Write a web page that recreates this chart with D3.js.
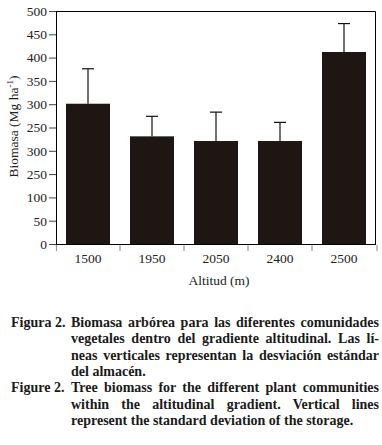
<!DOCTYPE html>
<html>
<head>
<meta charset="utf-8">
<script src="https://cdn.jsdelivr.net/npm/d3@7"></script>
<style>
  body { margin: 0; background: #fff; }
  svg { display: block; }
</style>
</head>
<body>
<div class="chart"></div>
<script>
// Data
const altitudes = ["1500", "1950", "2050", "2400", "2500"];
const biomass = [301, 231, 221, 221, 412];
const deviation = [75, 43, 62, 40, 61];
// tick labels exactly as printed in the original (including its typos)
const yTickValues = [0, 50, 100, 150, 200, 250, 300, 350, 400, 450, 500];
const yTickLabels = ["0", "50", "100", "250", "300", "250", "300", "350", "400", "450", "500"];

const captionEs = [
  "Biomasa arbórea para las diferentes comunidades",
  "vegetales dentro del gradiente altitudinal. Las lí-",
  "neas verticales representan la desviación estándar",
  "del almacén."
];
const captionEn = [
  "Tree biomass for the different plant communities",
  "within the altitudinal gradient. Vertical lines",
  "represent the standard deviation of the storage."
];

const width = 382, height = 445;
const margin = { top: 11, right: 6, bottom: 201, left: 56 };
const plotW = width - margin.left - margin.right;
const plotH = height - margin.top - margin.bottom;
const serif = "'Liberation Serif', 'DejaVu Serif', serif";

const svg = d3.select(".chart")
  .append("svg")
  .attr("width", width)
  .attr("height", height);

const g = svg.append("g")
  .attr("transform", "translate(" + margin.left + "," + margin.top + ")");

const x = d3.scaleBand()
  .domain(altitudes)
  .range([0, plotW])
  .paddingInner(0.3125)
  .paddingOuter(0.15625);

const y = d3.scaleLinear()
  .domain([0, 500])
  .range([plotH, 0]);

// frame (top and right)
g.append("path")
  .attr("d", `M0,0.5H${plotW - 0.5}V${plotH}`)
  .attr("fill", "none")
  .attr("stroke", "#000")
  .attr("stroke-width", 1);

// bars
g.selectAll(".bar")
  .data(altitudes)
  .join("rect")
  .attr("class", "bar")
  .attr("x", d => x(d))
  .attr("y", (d, i) => y(biomass[i]))
  .attr("width", x.bandwidth())
  .attr("height", (d, i) => plotH - y(biomass[i]))
  .attr("fill", "#1f1613");

// error bars
const err = g.selectAll(".err")
  .data(altitudes)
  .join("g")
  .attr("class", "err")
  .attr("stroke", "#111")
  .attr("stroke-width", 1.2);
err.append("line")
  .attr("x1", d => x(d) + x.bandwidth() / 2)
  .attr("x2", d => x(d) + x.bandwidth() / 2)
  .attr("y1", (d, i) => y(biomass[i]))
  .attr("y2", (d, i) => y(biomass[i] + deviation[i]));
err.append("line")
  .attr("x1", d => x(d) + x.bandwidth() / 2 - 6)
  .attr("x2", d => x(d) + x.bandwidth() / 2 + 6)
  .attr("y1", (d, i) => y(biomass[i] + deviation[i]))
  .attr("y2", (d, i) => y(biomass[i] + deviation[i]));

// y axis
const yAxis = d3.axisLeft(y)
  .tickValues(yTickValues)
  .tickSize(7)
  .tickPadding(2)
  .tickFormat((d, i) => yTickLabels[i]);
g.append("g")
  .attr("id", "y-axis")
  .call(yAxis)
  .call(a => a.select(".domain").attr("d", `M0.5,0V${plotH}`))
  .selectAll("text")
  .style("font-family", serif)
  .style("font-size", "13.5px")
  .attr("fill", "#222");
g.selectAll("#y-axis .tick line").attr("stroke", "#444");

// x axis: labels centered on bars, ticks at category boundaries
const xAxis = d3.axisBottom(x)
  .tickSize(0)
  .tickPadding(9);
g.append("g")
  .attr("id", "x-axis")
  .attr("transform", "translate(0," + plotH + ")")
  .call(xAxis)
  .call(a => a.select(".domain").attr("d", `M0,0.5H${plotW}`).attr("stroke", "#000"))
  .selectAll("text")
  .style("font-family", serif)
  .style("font-size", "13.5px")
  .attr("fill", "#222");

const bounds = altitudes.map(d => x(d) - x.step() * x.paddingInner() / 2)
  .concat([plotW + 1]);
bounds[0] = 0.5;
g.selectAll(".xtick")
  .data(bounds)
  .join("line")
  .attr("class", "xtick")
  .attr("x1", d => d)
  .attr("x2", d => d)
  .attr("y1", plotH + 1)
  .attr("y2", plotH + 7)
  .attr("stroke", "#999")
  .attr("stroke-width", 1.2);

// axis titles
g.append("text")
  .attr("x", plotW / 2 + 3)
  .attr("y", plotH + 41)
  .attr("text-anchor", "middle")
  .style("font-family", serif)
  .style("font-size", "13.5px")
  .attr("fill", "#222")
  .text("Altitud (m)");

const yLabel = g.append("text")
  .attr("transform", "rotate(-90)")
  .attr("x", -plotH / 2 + 1)
  .attr("y", -38)
  .attr("text-anchor", "middle")
  .style("font-family", serif)
  .style("font-size", "13.5px")
  .attr("fill", "#222");
yLabel.append("tspan").text("Biomasa (Mg ha");
yLabel.append("tspan").text("-1").attr("dy", -5).style("font-size", "9px");
yLabel.append("tspan").text(")").attr("dy", 5);

// caption
const cap = svg.append("g")
  .style("font-family", serif)
  .style("font-weight", "bold")
  .style("font-size", "14px")
  .attr("fill", "#1a1a1a");

const lineH = 16.3;
const capLeft = 11, capIndent = 71, capRight = 379;

function captionBlock(label, lines, y0) {
  cap.append("text")
    .attr("x", capLeft)
    .attr("y", y0)
    .text(label);
  lines.forEach((t, i) => {
    const el = cap.append("text")
      .attr("x", capIndent)
      .attr("y", y0 + i * lineH)
      .text(t);
    // justify all but the last line by widening the word gaps
    if (i < lines.length - 1) {
      const natural = el.node().getComputedTextLength();
      const gaps = t.split(" ").length - 1;
      const extra = (capRight - capIndent - natural) / gaps;
      el.style("word-spacing", extra + "px");
    }
  });
}

captionBlock("Figura 2.", captionEs, 327);
captionBlock("Figure 2.", captionEn, 327 + 4 * lineH);
</script>
</body>
</html>
